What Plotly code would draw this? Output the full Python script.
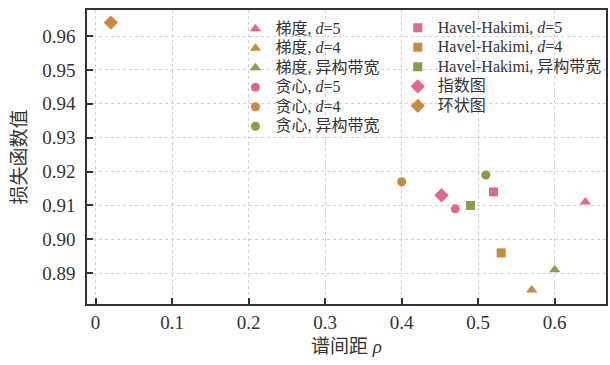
import plotly.graph_objects as go

# Spectral gap (rho) vs. loss value for each topology-construction method
methods = [
    "梯度, <i>d</i>=5", "梯度, <i>d</i>=4", "梯度, 异构带宽",
    "贪心, <i>d</i>=5", "贪心, <i>d</i>=4", "贪心, 异构带宽",
    "Havel-Hakimi, <i>d</i>=5", "Havel-Hakimi, <i>d</i>=4", "Havel-Hakimi, 异构带宽",
    "指数图", "环状图",
]
rho = [0.64, 0.57, 0.60, 0.47, 0.40, 0.51, 0.52, 0.53, 0.49, 0.452, 0.02]
loss = [0.911, 0.885, 0.891, 0.909, 0.917, 0.919, 0.914, 0.896, 0.910, 0.913, 0.964]

x_ticks = [0, 0.1, 0.2, 0.3, 0.4, 0.5, 0.6]
x_tick_text = ["0", "0.1", "0.2", "0.3", "0.4", "0.5", "0.6"]
y_ticks = [0.89, 0.90, 0.91, 0.92, 0.93, 0.94, 0.95, 0.96]

PINK, ORANGE, GREEN = "#E0688A", "#C98A3E", "#8C9B45"
styles = [
    ("triangle-up", PINK, 10), ("triangle-up", ORANGE, 10), ("triangle-up", GREEN, 10),
    ("circle", PINK, 9), ("circle", ORANGE, 9), ("circle", GREEN, 9),
    ("square", PINK, 9), ("square", ORANGE, 9), ("square", GREEN, 9),
    ("diamond", PINK, 11), ("diamond", ORANGE, 11),
]

SERIF = "Liberation Serif, Noto Sans CJK SC, serif"
TXT = "#333333"

fig = go.Figure()
for i, (name, x, y) in enumerate(zip(methods, rho, loss)):
    sym, col, sz = styles[i]
    fig.add_trace(go.Scatter(
        x=[x], y=[y], mode="markers",
        # legend rows are packed tightly; the label itself is drawn at 16px
        name='<span style="font-size:16px">' + name + "</span>",
        marker=dict(symbol=sym, color=col, size=sz, line=dict(width=0)),
        legend="legend" if i < 6 else "legend2",
    ))

W, H = 610, 365
ml, mr, mt, mb = 87, 2, 10, 61
pw, ph = W - ml - mr, H - mt - mb

def px_x(p):
    return (p - ml) / pw

def px_y(p):
    return 1 - (p - mt) / ph

legend_common = dict(
    bgcolor="rgba(0,0,0,0)", borderwidth=0,
    font=dict(family=SERIF, size=12.7, color=TXT),
    xanchor="left", yanchor="top", itemwidth=30,
    tracegroupgap=0,
)

axis_common = dict(
    showline=True, linecolor="#333333", linewidth=1.5, mirror=True,
    ticks="inside", ticklen=6, tickwidth=1.5, tickcolor="#333333",
    showgrid=True, gridcolor="#d0d0d0", griddash="dot", gridwidth=1,
    zeroline=False,
    tickfont=dict(family=SERIF, size=19, color=TXT),
)

fig.update_layout(
    width=W, height=H,
    margin=dict(l=ml, r=mr, t=mt, b=mb),
    paper_bgcolor="white", plot_bgcolor="white",
    xaxis=dict(
        **axis_common,
        range=[-0.0112, 0.667],
        tickvals=x_ticks, ticktext=x_tick_text,
        title=dict(text="谱间距 <i>ρ</i>", font=dict(family=SERIF, size=19, color=TXT), standoff=8),
    ),
    yaxis=dict(
        **axis_common,
        range=[0.8809, 0.9677],
        tickvals=y_ticks, tickformat=".2f",
        ticklabelstandoff=6,
        title=dict(text="损失函数值", font=dict(family=SERIF, size=19, color=TXT), standoff=11),
    ),
    legend=dict(**legend_common, x=px_x(236), y=px_y(14)),
    legend2=dict(**legend_common, x=px_x(399), y=px_y(13)),
    shapes=[dict(
        type="rect", xref="paper", yref="paper", layer="between",
        x0=px_x(253), x1=1, y0=px_y(140), y1=1,
        fillcolor="white", line=dict(width=0),
    )],
)

fig.write_html("out.html")
